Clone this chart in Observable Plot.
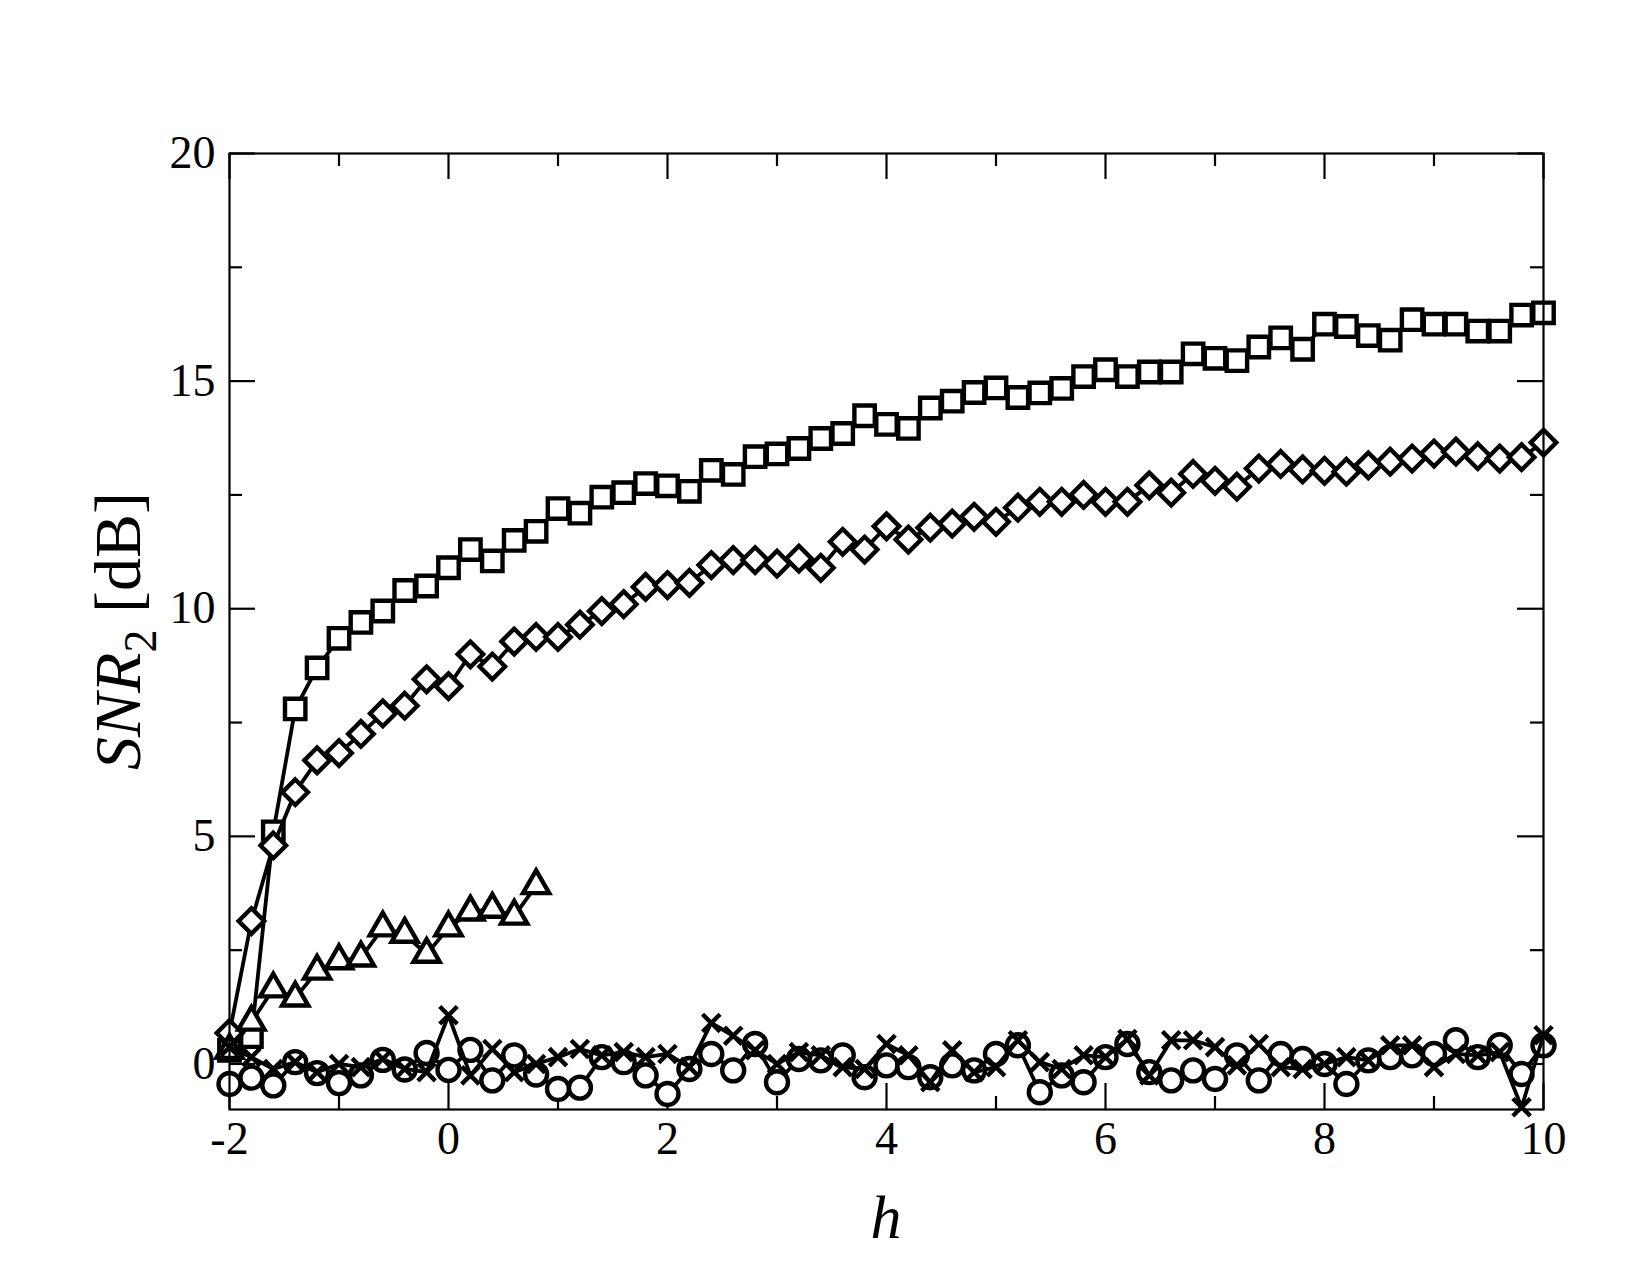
<!DOCTYPE html>
<html>
<head>
<meta charset="utf-8">
<script src="https://cdn.jsdelivr.net/npm/d3@7"></script>
<script src="https://cdn.jsdelivr.net/npm/@observablehq/plot@0.6"></script>
<style>
  html, body { margin: 0; padding: 0; background: #fff; }
  #chart { width: 1650px; height: 1275px; }
</style>
</head>
<body>
<div id="chart"></div>
<script>
// ---- data ----
const h = [-2,-1.8,-1.6,-1.4,-1.2,-1,-0.8,-0.6,-0.4,-0.2,0,0.2,0.4,0.6,0.8,1,1.2,1.4,1.6,1.8,2,2.2,2.4,2.6,2.8,3,3.2,3.4,3.6,3.8,4,4.2,4.4,4.6,4.8,5,5.2,5.4,5.6,5.8,6,6.2,6.4,6.6,6.8,7,7.2,7.4,7.6,7.8,8,8.2,8.4,8.6,8.8,9,9.2,9.4,9.6,9.8,10];

const squares = [0.3,0.6,5.1,7.8,8.7,9.35,9.7,9.95,10.4,10.5,10.9,11.3,11.05,11.5,11.7,12.2,12.1,12.45,12.55,12.75,12.7,12.58,13.04,12.95,13.34,13.4,13.52,13.74,13.85,14.24,14.05,13.96,14.41,14.56,14.75,14.85,14.64,14.74,14.84,15.1,15.25,15.1,15.2,15.2,15.6,15.5,15.45,15.75,15.95,15.7,16.25,16.2,16.0,15.9,16.35,16.25,16.25,16.1,16.1,16.45,16.5];

const diamonds = [0.68,3.14,4.8,5.97,6.67,6.83,7.25,7.7,7.87,8.45,8.3,9.0,8.73,9.28,9.38,9.38,9.65,9.95,10.1,10.48,10.52,10.57,10.96,11.07,11.07,10.99,11.1,10.9,11.47,11.3,11.81,11.52,11.78,11.87,12.02,11.91,12.22,12.35,12.35,12.5,12.35,12.35,12.71,12.55,12.96,12.81,12.68,13.08,13.18,13.06,13.03,13.01,13.15,13.23,13.3,13.41,13.45,13.35,13.3,13.33,13.65];

const hTriangles = [-2,-1.8,-1.6,-1.4,-1.2,-1,-0.8,-0.6,-0.4,-0.2,0,0.2,0.4,0.6,0.8];
const triangles = [0.30,0.92,1.65,1.45,2.04,2.27,2.33,2.99,2.85,2.41,2.99,3.34,3.40,3.25,3.92];

const circles = [-0.44,-0.30,-0.47,0.04,-0.20,-0.42,-0.25,0.09,-0.12,0.24,-0.13,0.31,-0.36,0.19,-0.23,-0.55,-0.52,0.15,0.04,-0.25,-0.66,-0.11,0.22,-0.14,0.44,-0.40,0.11,0.08,0.19,-0.29,-0.03,-0.07,-0.29,-0.03,-0.14,0.22,0.41,-0.62,-0.25,-0.40,0.15,0.44,-0.18,-0.36,-0.14,-0.33,0.19,-0.36,0.22,0.11,0.0,-0.44,0.08,0.15,0.19,0.22,0.52,0.15,0.41,-0.22,0.41];

const crosses = [0.37,0.15,-0.11,0.04,-0.18,0.0,-0.07,0.11,-0.11,-0.18,1.07,-0.25,0.33,-0.18,0.0,0.15,0.33,0.19,0.26,0.15,0.22,-0.07,0.90,0.62,0.30,0.0,0.26,0.19,-0.07,-0.11,0.44,0.19,-0.40,0.30,-0.18,-0.07,0.52,0.04,-0.11,0.19,0.15,0.55,-0.25,0.52,0.52,0.37,-0.03,0.44,-0.07,-0.11,0.0,0.15,0.08,0.41,0.41,-0.07,0.22,0.19,0.26,-0.95,0.63];

const xMajorTicks = [-2,0,2,4,6,8,10];
const xMinorTicks = [-1,1,3,5,7,9];
const yMajorTicks = [0,5,10,15,20];
const yMinorTicks = [2.5,7.5,12.5,17.5];
const xDomain = [-2,10];
const yDomain = [-1,20];

// ---- layout ----
const W = 1650, H = 1275;
const mL = 229, mR = 107, mT = 153, mB = 166;
const innerW = W - mL - mR, innerH = H - mT - mB;
const majorLen = 26, minorLen = 13;
const font = "Liberation Serif, Times New Roman, serif";

const toRows = (xs, ys) => xs.map((x, i) => ({h: x, v: ys[i]}));
const sq = toRows(h, squares);
const di = toRows(h, diamonds);
const tr = toRows(hTriangles, triangles);
const ci = toRows(h, circles);
const cr = toRows(h, crosses);

const lineOpts = {x: "h", y: "v", stroke: "black", strokeWidth: 3.8};
const dotOpts = (symbol, r) => ({x: "h", y: "v", symbol, r, stroke: "black", fill: "white", strokeWidth: 4.4});

const svg = Plot.plot({
  width: W, height: H,
  marginLeft: mL, marginRight: mR, marginTop: mT, marginBottom: mB,
  style: {fontFamily: font, fontSize: "46px", background: "white", color: "black"},
  x: {domain: xDomain},
  y: {domain: yDomain},
  marks: [
    // inward tick marks on all four sides
    Plot.ruleX(xMajorTicks, {x: d => d, insetTop: innerH - majorLen, stroke: "black", strokeWidth: 2.2}),
    Plot.ruleX(xMinorTicks, {x: d => d, insetTop: innerH - minorLen, stroke: "black", strokeWidth: 2.2}),
    Plot.ruleX(xMajorTicks, {x: d => d, insetBottom: innerH - majorLen, stroke: "black", strokeWidth: 2.2}),
    Plot.ruleX(xMinorTicks, {x: d => d, insetBottom: innerH - minorLen, stroke: "black", strokeWidth: 2.2}),
    Plot.ruleY(yMajorTicks, {y: d => d, insetRight: innerW - majorLen, stroke: "black", strokeWidth: 2.2}),
    Plot.ruleY(yMinorTicks, {y: d => d, insetRight: innerW - minorLen, stroke: "black", strokeWidth: 2.2}),
    Plot.ruleY(yMajorTicks, {y: d => d, insetLeft: innerW - majorLen, stroke: "black", strokeWidth: 2.2}),
    Plot.ruleY(yMinorTicks, {y: d => d, insetLeft: innerW - minorLen, stroke: "black", strokeWidth: 2.2}),
    Plot.axisX({ticks: xMajorTicks, tickSize: 0, tickPadding: 12, tickFormat: d => String(d), label: null, fontSize: 46, fill: "black"}),
    Plot.axisY({ticks: yMajorTicks, tickSize: 0, tickPadding: 14, tickFormat: d => String(d), label: null, fontSize: 46, fill: "black"}),
    // series
    Plot.line(sq, lineOpts),
    Plot.dot(sq, dotOpts("square2", 13)),
    Plot.line(di, lineOpts),
    Plot.dot(di, dotOpts("diamond2", 11.5)),
    Plot.line(tr, lineOpts),
    Plot.dot(tr, dotOpts("triangle2", 12.5)),
    Plot.line(ci, lineOpts),
    Plot.dot(ci, dotOpts("circle", 11)),
    Plot.line(cr, lineOpts),
    Plot.dot(cr, {x: "h", y: "v", symbol: "times", r: 8, stroke: "black", strokeWidth: 4.4}),
    Plot.frame({stroke: "black", strokeWidth: 2.2})
  ]
});

// axis titles
const s = d3.select(svg);
s.append("text")
  .attr("x", mL + innerW / 2).attr("y", 1238)
  .attr("text-anchor", "middle")
  .attr("font-family", font).attr("font-size", 62).attr("font-style", "italic")
  .attr("fill", "black")
  .text("h");

const yl = s.append("text")
  .attr("transform", `translate(140,${mT + innerH / 2}) rotate(-90)`)
  .attr("text-anchor", "middle")
  .attr("font-family", font).attr("font-size", 66)
  .attr("fill", "black");
yl.append("tspan").attr("font-style", "italic").text("SNR");
yl.append("tspan").attr("font-size", 46).attr("dy", 16).text("2");
yl.append("tspan").attr("dy", -16).text(" [dB]");

document.getElementById("chart").appendChild(svg);
</script>
</body>
</html>
